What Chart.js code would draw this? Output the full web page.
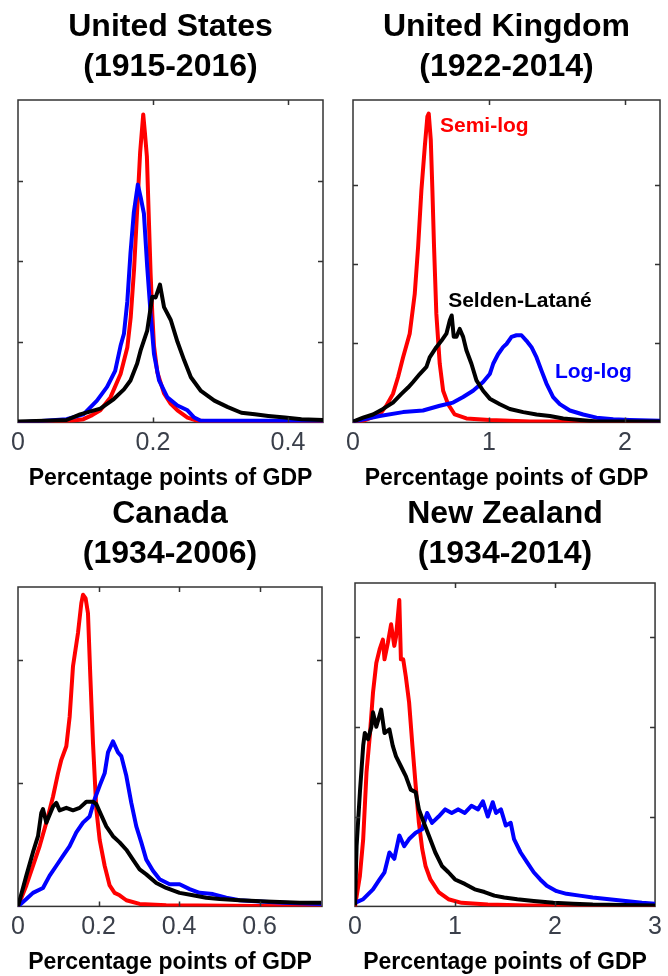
<!DOCTYPE html>
<html>
<head>
<meta charset="utf-8">
<script src="https://cdn.jsdelivr.net/npm/chart.js@4.4.0/dist/chart.umd.min.js"></script>
<style>
    body { margin: 0; background: #fff; }
    .painel { position: absolute; width: 334px; height: 492px; }
</style>
</head>
<body>
<div class="painel" style="left:0; top:0;"><canvas id="chart-us" width="334" height="492"></canvas></div>
<div class="painel" style="left:334px; top:0;"><canvas id="chart-uk" width="334" height="492"></canvas></div>
<div class="painel" style="left:0; top:484px;"><canvas id="chart-ca" width="334" height="492"></canvas></div>
<div class="painel" style="left:334px; top:484px;"><canvas id="chart-nz" width="334" height="492"></canvas></div>
<script>
var charts = [];

// Estados Unidos (1915-2016)
var usSemiLogX = [0, 0.05, 0.08, 0.097, 0.11, 0.122, 0.137, 0.152, 0.162, 0.167, 0.172, 0.177, 0.181, 0.1856, 0.188, 0.191, 0.194, 0.1965, 0.199, 0.2015, 0.2065, 0.2164, 0.2264, 0.2363, 0.2512, 0.266, 0.30, 0.452];
var usSemiLogY = [0, 0.01, 0.02, 0.04, 0.09, 0.15, 0.31, 0.6, 0.93, 1.3, 1.9, 2.7, 3.35, 3.82, 3.6, 3.3, 2.5, 1.85, 1.35, 0.95, 0.62, 0.36, 0.23, 0.15, 0.06, 0.02, 0.01, 0];
var usLogLogX = [0, 0.04, 0.072, 0.097, 0.117, 0.132, 0.144, 0.152, 0.157, 0.162, 0.1667, 0.1716, 0.1776, 0.1816, 0.1866, 0.1915, 0.1965, 0.2015, 0.209, 0.2214, 0.2363, 0.2512, 0.2612, 0.271, 0.32, 0.452];
var usLogLogY = [0, 0.02, 0.04, 0.1, 0.27, 0.44, 0.64, 0.95, 1.1, 1.5, 2.1, 2.6, 2.95, 2.8, 2.59, 1.93, 1.35, 0.85, 0.52, 0.31, 0.21, 0.15, 0.06, 0.02, 0.02, 0.02];
var usSeldenX = [0, 0.04, 0.072, 0.092, 0.122, 0.142, 0.157, 0.1667, 0.1766, 0.1816, 0.1915, 0.199, 0.204, 0.2104, 0.2164, 0.2264, 0.2363, 0.2463, 0.2562, 0.2711, 0.291, 0.311, 0.331, 0.351, 0.371, 0.3955, 0.42, 0.452];
var usSeldenY = [0.01, 0.02, 0.03, 0.1, 0.17, 0.29, 0.41, 0.52, 0.73, 0.89, 1.14, 1.56, 1.55, 1.71, 1.43, 1.27, 1.0, 0.77, 0.56, 0.39, 0.27, 0.19, 0.12, 0.1, 0.08, 0.06, 0.04, 0.03];

// Reino Unido (1922-2014)
var ukSemiLogX = [0, 0.074, 0.196, 0.245, 0.294, 0.331, 0.368, 0.417, 0.454, 0.479, 0.503, 0.528, 0.547, 0.557, 0.572, 0.584, 0.596, 0.613, 0.638, 0.663, 0.699, 0.748, 0.834, 1.006, 1.3, 2.258];
var ukSemiLogY = [0, 0.02, 0.1, 0.21, 0.36, 0.57, 0.82, 1.12, 1.62, 2.22, 2.93, 3.48, 3.86, 3.9, 3.57, 2.93, 2.22, 1.37, 0.74, 0.4, 0.23, 0.1, 0.05, 0.03, 0.01, 0.01];
var ukLogLogX = [0, 0.196, 0.368, 0.515, 0.638, 0.736, 0.81, 0.883, 0.957, 1.006, 1.031, 1.067, 1.104, 1.129, 1.166, 1.202, 1.239, 1.276, 1.313, 1.35, 1.387, 1.423, 1.472, 1.521, 1.595, 1.693, 1.791, 1.914, 2.037, 2.258];
var ukLogLogY = [0.01, 0.08, 0.13, 0.15, 0.21, 0.25, 0.32, 0.4, 0.51, 0.61, 0.74, 0.86, 0.95, 0.99, 1.08, 1.1, 1.1, 1.03, 0.95, 0.82, 0.65, 0.49, 0.32, 0.23, 0.15, 0.1, 0.06, 0.04, 0.03, 0.02];
var ukSeldenX = [0, 0.074, 0.147, 0.221, 0.294, 0.356, 0.405, 0.442, 0.491, 0.54, 0.564, 0.613, 0.65, 0.687, 0.712, 0.726, 0.741, 0.761, 0.785, 0.81, 0.834, 0.871, 0.908, 0.957, 1.006, 1.08, 1.153, 1.252, 1.35, 1.448, 1.546, 1.669, 1.791, 2.258];
var ukSeldenY = [0.01, 0.06, 0.1, 0.17, 0.25, 0.36, 0.44, 0.51, 0.61, 0.7, 0.82, 0.95, 1.03, 1.12, 1.29, 1.35, 1.08, 1.08, 1.18, 1.08, 0.91, 0.74, 0.53, 0.4, 0.3, 0.23, 0.17, 0.13, 0.1, 0.08, 0.05, 0.03, 0.01, 0.01];

// Canadá (1934-2006)
var caSemiLogX = [0, 0.0207, 0.0372, 0.0538, 0.0703, 0.0869, 0.0993, 0.1076, 0.12, 0.1283, 0.1366, 0.149, 0.1572, 0.1614, 0.168, 0.1738, 0.1796, 0.1862, 0.1945, 0.2028, 0.2152, 0.2276, 0.24, 0.2524, 0.269, 0.302, 0.368, 0.753];
var caSemiLogY = [0, 0.17, 0.33, 0.49, 0.68, 0.89, 1.08, 1.19, 1.3, 1.54, 1.95, 2.22, 2.46, 2.53, 2.5, 2.38, 1.87, 1.33, 0.79, 0.54, 0.33, 0.17, 0.11, 0.09, 0.05, 0.02, 0.01, 0];
var caLogLogX = [0, 0.0207, 0.0372, 0.062, 0.0786, 0.0952, 0.1117, 0.1283, 0.1448, 0.1614, 0.1779, 0.1903, 0.2028, 0.2152, 0.2235, 0.2359, 0.2483, 0.2566, 0.269, 0.2814, 0.2938, 0.3062, 0.3186, 0.3352, 0.3517, 0.3766, 0.4014, 0.4262, 0.451, 0.4841, 0.5172, 0.5504, 0.6, 0.658, 0.753];
var caLogLogY = [0, 0.06, 0.11, 0.15, 0.25, 0.33, 0.41, 0.49, 0.6, 0.68, 0.73, 0.87, 0.98, 1.08, 1.25, 1.34, 1.25, 1.22, 1.06, 0.84, 0.65, 0.52, 0.38, 0.29, 0.22, 0.18, 0.18, 0.14, 0.11, 0.1, 0.07, 0.05, 0.04, 0.03, 0.02];
var caSeldenX = [0, 0.0207, 0.0372, 0.0497, 0.0579, 0.062, 0.0703, 0.0869, 0.0952, 0.1034, 0.12, 0.1366, 0.1531, 0.1697, 0.1862, 0.1945, 0.2028, 0.2193, 0.2359, 0.2524, 0.269, 0.2855, 0.302, 0.3186, 0.3435, 0.368, 0.4014, 0.4345, 0.4676, 0.5007, 0.5504, 0.6166, 0.6993, 0.753];
var caSeldenY = [0, 0.25, 0.44, 0.57, 0.76, 0.79, 0.68, 0.81, 0.84, 0.78, 0.8, 0.78, 0.8, 0.85, 0.85, 0.83, 0.77, 0.65, 0.57, 0.52, 0.46, 0.38, 0.3, 0.26, 0.19, 0.15, 0.11, 0.09, 0.07, 0.06, 0.05, 0.04, 0.03, 0.03];

// Nova Zelândia (1934-2014)
var nzSemiLogX = [0, 0.049, 0.082, 0.115, 0.148, 0.18, 0.213, 0.246, 0.279, 0.295, 0.328, 0.361, 0.393, 0.41, 0.443, 0.459, 0.482, 0.508, 0.541, 0.574, 0.607, 0.639, 0.672, 0.705, 0.754, 0.836, 0.934, 1.066, 1.328, 1.721, 3.0];
var nzSemiLogY = [0, 0.34, 0.75, 1.49, 1.9, 2.38, 2.71, 2.86, 2.97, 2.75, 2.93, 3.14, 2.9, 3.0, 3.41, 2.75, 2.75, 2.56, 2.27, 1.79, 1.34, 0.93, 0.64, 0.45, 0.3, 0.16, 0.08, 0.04, 0.02, 0.01, 0.005];
var nzLogLogX = [0, 0.082, 0.18, 0.246, 0.295, 0.344, 0.393, 0.443, 0.492, 0.541, 0.607, 0.672, 0.721, 0.77, 0.836, 0.902, 0.967, 1.033, 1.098, 1.164, 1.23, 1.279, 1.328, 1.377, 1.41, 1.459, 1.508, 1.557, 1.59, 1.656, 1.721, 1.787, 1.852, 1.918, 2.016, 2.115, 2.246, 2.377, 2.541, 2.705, 2.869, 3.0];
var nzLogLogY = [0.04, 0.08, 0.19, 0.3, 0.38, 0.6, 0.53, 0.79, 0.67, 0.75, 0.82, 0.86, 1.04, 0.93, 1.0, 1.08, 1.04, 1.08, 1.04, 1.12, 1.08, 1.17, 1.0, 1.16, 1.04, 1.08, 0.9, 0.93, 0.75, 0.6, 0.49, 0.38, 0.3, 0.23, 0.17, 0.14, 0.12, 0.1, 0.08, 0.06, 0.04, 0.03];
var nzSeldenX = [0, 0.016, 0.049, 0.082, 0.098, 0.131, 0.164, 0.18, 0.213, 0.262, 0.295, 0.344, 0.377, 0.41, 0.459, 0.508, 0.557, 0.607, 0.639, 0.689, 0.738, 0.803, 0.869, 0.934, 1.0, 1.098, 1.197, 1.295, 1.393, 1.492, 1.623, 1.787, 1.984, 2.18, 2.377, 3.0];
var nzSeldenY = [0.01, 0.67, 1.27, 1.79, 1.93, 1.86, 2.0, 2.16, 2.0, 2.19, 1.93, 1.97, 1.79, 1.67, 1.56, 1.45, 1.3, 1.27, 1.08, 0.93, 0.79, 0.6, 0.45, 0.38, 0.3, 0.25, 0.19, 0.16, 0.12, 0.1, 0.08, 0.06, 0.04, 0.03, 0.02, 0.01];

// marcas internas do eixo y (sem rótulos)
var usYTicks = [1, 2, 3];
var ukYTicks = [1, 2, 3];
var caYTicks = [1, 2];
var nzYTicks = [1, 2, 3];

// nomes das séries escritos dentro do painel do Reino Unido
var ukRotulos = ['Semi-log', 'Selden-Latané', 'Log-log'];
var ukRotulosX = [0.64, 0.70, 1.485];
var ukRotulosY = [3.66, 1.46, 0.56];
var ukRotulosCor = ['#ff0000', '#000000', '#0000ff'];

var fonte = "'Liberation Sans', Arial, sans-serif";

function pontos(xs, ys) {
    var retorno = [];
    for (var i = 0; i < xs.length; i++) {
        retorno.push({x: xs[i], y: ys[i]});
    }
    return retorno;
}

// caixa em volta da área, marcas de escala para dentro e textos das séries
var moldura = {
    id: 'moldura',
    beforeDatasetsDraw: function (chart) {
        var ctx = chart.ctx, a = chart.chartArea;
        ctx.save();
        ctx.strokeStyle = '#333';
        ctx.lineWidth = 1.5;
        ctx.strokeRect(a.left, a.top, a.right - a.left, a.bottom - a.top);
        ctx.restore();
    },
    afterDatasetsDraw: function (chart, args, opts) {
        var ctx = chart.ctx, a = chart.chartArea, escX = chart.scales.x, escY = chart.scales.y;
        ctx.save();
        ctx.strokeStyle = '#333';
        ctx.lineWidth = 1.5;
        ctx.beginPath();
        escX.ticks.forEach(function (t) {
            if (t.value <= escX.min || t.value >= escX.max) return;
            var px = Math.round(escX.getPixelForValue(t.value)) + 0.5;
            ctx.moveTo(px, a.bottom); ctx.lineTo(px, a.bottom - 5);
            ctx.moveTo(px, a.top); ctx.lineTo(px, a.top + 5);
        });
        (opts.yTicks || []).forEach(function (v) {
            var py = Math.round(escY.getPixelForValue(v)) + 0.5;
            ctx.moveTo(a.left, py); ctx.lineTo(a.left + 5, py);
            ctx.moveTo(a.right, py); ctx.lineTo(a.right - 5, py);
        });
        ctx.stroke();

        var r = opts.rotulos;
        if (r) {
            ctx.font = 'bold 21px ' + fonte;
            ctx.textAlign = 'left';
            ctx.textBaseline = 'alphabetic';
            for (var i = 0; i < r.textos.length; i++) {
                ctx.fillStyle = r.cores[i];
                ctx.fillText(r.textos[i], escX.getPixelForValue(r.xs[i]), escY.getPixelForValue(r.ys[i]));
            }
        }
        ctx.restore();
    }
};

function drawChart(id, titulo, series, cfg) {
    var config = {
        type: 'line',
        data: {
            datasets: [{
                label: 'Selden-Latané',
                data: pontos(series.seldenX, series.seldenY),
                borderColor: '#000000',
                borderWidth: 4
            }, {
                label: 'Log-log',
                data: pontos(series.logLogX, series.logLogY),
                borderColor: '#0000ff',
                borderWidth: 4
            }, {
                label: 'Semi-log',
                data: pontos(series.semiLogX, series.semiLogY),
                borderColor: '#ff0000',
                borderWidth: 4
            }]
        },
        options: {
            responsive: false,
            animation: false,
            events: [],
            elements: {
                point: { radius: 0 },
                line: { tension: 0, fill: false, borderJoinStyle: 'round' }
            },
            layout: {
                padding: { left: cfg.left, right: cfg.right, top: 0, bottom: 0 }
            },
            scales: {
                x: {
                    type: 'linear',
                    min: 0,
                    max: cfg.xMax,
                    grid: { display: false, drawTicks: false },
                    border: { display: false },
                    ticks: {
                        stepSize: cfg.xStep,
                        includeBounds: false,
                        autoSkip: false,
                        maxRotation: 0,
                        padding: 6,
                        color: '#3a3f4a',
                        font: { family: fonte, size: 25 }
                    },
                    title: {
                        display: true,
                        text: 'Percentage points of GDP',
                        color: '#000',
                        padding: { top: 0, bottom: 0 },
                        font: { family: fonte, size: 23, weight: 'bold' }
                    }
                },
                y: {
                    display: false,
                    min: 0,
                    max: cfg.yMax
                }
            },
            plugins: {
                legend: { display: false },
                tooltip: { enabled: false },
                title: {
                    display: true,
                    fullSize: false,
                    text: titulo,
                    color: '#000',
                    font: { family: fonte, size: 32, weight: 'bold', lineHeight: 1.25 },
                    padding: { top: cfg.titTop, bottom: cfg.titBottom }
                },
                moldura: {
                    yTicks: cfg.yTicks,
                    rotulos: cfg.rotulos
                }
            }
        },
        plugins: [moldura]
    };
    charts[id] = new Chart(document.getElementById(id), config);
}

drawChart('chart-us', ['United States', '(1915-2016)'],
    { semiLogX: usSemiLogX, semiLogY: usSemiLogY, logLogX: usLogLogX, logLogY: usLogLogY, seldenX: usSeldenX, seldenY: usSeldenY },
    { left: 18, right: 11, xMax: 0.452, xStep: 0.2, yMax: 4, yTicks: usYTicks, titTop: 7, titBottom: 13 });

drawChart('chart-uk', ['United Kingdom', '(1922-2014)'],
    { semiLogX: ukSemiLogX, semiLogY: ukSemiLogY, logLogX: ukLogLogX, logLogY: ukLogLogY, seldenX: ukSeldenX, seldenY: ukSeldenY },
    { left: 19, right: 8, xMax: 2.258, xStep: 1, yMax: 4.07, yTicks: ukYTicks, titTop: 7, titBottom: 13,
      rotulos: { textos: ukRotulos, xs: ukRotulosX, ys: ukRotulosY, cores: ukRotulosCor } });

drawChart('chart-ca', ['Canada', '(1934-2006)'],
    { semiLogX: caSemiLogX, semiLogY: caSemiLogY, logLogX: caLogLogX, logLogY: caLogLogY, seldenX: caSeldenX, seldenY: caSeldenY },
    { left: 18, right: 12, xMax: 0.755, xStep: 0.2, yMax: 2.593, yTicks: caYTicks, titTop: 10, titBottom: 13 });

drawChart('chart-nz', ['New Zealand', '(1934-2014)'],
    { semiLogX: nzSemiLogX, semiLogY: nzSemiLogY, logLogX: nzLogLogX, logLogY: nzLogLogY, seldenX: nzSeldenX, seldenY: nzSeldenY },
    { left: 21, right: 8, xMax: 3, xStep: 1, yMax: 3.6, yTicks: nzYTicks, titTop: 10, titBottom: 9 });
</script>
</body>
</html>
